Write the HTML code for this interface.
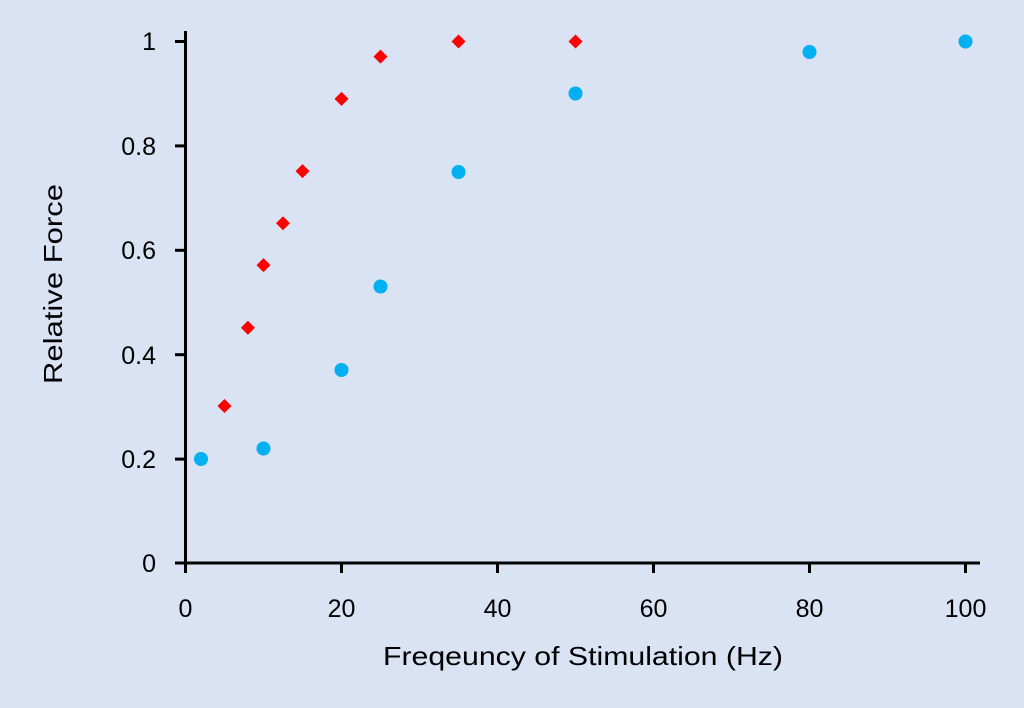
<!DOCTYPE html>
<html><head><style>body{margin:0;background:#dae3f3}</style></head><body>
<svg width="1024" height="703" xmlns="http://www.w3.org/2000/svg" font-family="Liberation Sans, sans-serif">
<rect width="1024" height="703" fill="#dae3f3"/>
<g stroke="#000" stroke-width="3">
<line x1="185.5" y1="31" x2="185.5" y2="573"/>
<line x1="175" y1="563" x2="980" y2="563"/>
<line x1="175" y1="41.5" x2="185" y2="41.5"/>
<line x1="175" y1="145.9" x2="185" y2="145.9"/>
<line x1="175" y1="250.3" x2="185" y2="250.3"/>
<line x1="175" y1="354.7" x2="185" y2="354.7"/>
<line x1="175" y1="459.1" x2="185" y2="459.1"/>
<line x1="341.5" y1="563" x2="341.5" y2="573"/>
<line x1="497.5" y1="563" x2="497.5" y2="573"/>
<line x1="653.5" y1="563" x2="653.5" y2="573"/>
<line x1="809.5" y1="563" x2="809.5" y2="573"/>
<line x1="965.5" y1="563" x2="965.5" y2="573"/>
</g>
<g font-size="25" text-anchor="end" fill="#000">
<text x="156" y="50">1</text>
<text x="156" y="155">0.8</text>
<text x="156" y="259">0.6</text>
<text x="156" y="364">0.4</text>
<text x="156" y="468">0.2</text>
<text x="156" y="572">0</text>
</g>
<g font-size="25" text-anchor="middle" fill="#000">
<text x="185.5" y="617">0</text>
<text x="341.5" y="617">20</text>
<text x="497.5" y="617">40</text>
<text x="653.5" y="617">60</text>
<text x="809.5" y="617">80</text>
<text x="965.5" y="617">100</text>
</g>
<g font-size="26" fill="#000">
<text x="383" y="665" textLength="400" lengthAdjust="spacingAndGlyphs">Freqeuncy of Stimulation (Hz)</text>
<text transform="translate(62,384) rotate(-90)" textLength="200" lengthAdjust="spacingAndGlyphs">Relative Force</text>
</g>
<g fill="#00b0f0">
<circle cx="201" cy="459" r="7"/>
<circle cx="263.5" cy="448.5" r="7"/>
<circle cx="341.5" cy="370" r="7"/>
<circle cx="380.5" cy="286.5" r="7"/>
<circle cx="458.5" cy="172" r="7"/>
<circle cx="575.5" cy="93.5" r="7"/>
<circle cx="809.5" cy="52" r="7"/>
<circle cx="965.5" cy="41.5" r="7"/>
</g>
<g fill="#ff0000">
<path d="M224.5 399l7 7-7 7-7-7z"/>
<path d="M247.9 320.7l7 7-7 7-7-7z"/>
<path d="M263.5 258.1l7 7-7 7-7-7z"/>
<path d="M283 216.3l7 7-7 7-7-7z"/>
<path d="M302.5 164.1l7 7-7 7-7-7z"/>
<path d="M341.5 91.9l7 7-7 7-7-7z"/>
<path d="M380.5 49.6l7 7-7 7-7-7z"/>
<path d="M458.5 34.5l7 7-7 7-7-7z"/>
<path d="M575.5 34.5l7 7-7 7-7-7z"/>
</g>
</svg>
</body></html>
